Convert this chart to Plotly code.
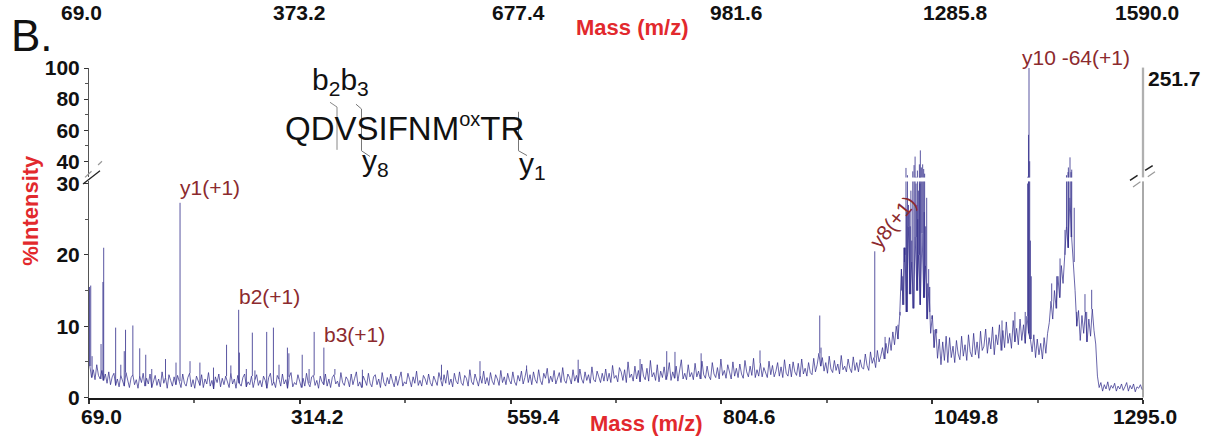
import numpy as np
import plotly.graph_objects as go

W, H = 1215, 448

# ---------------- data ----------------
x_tick_vals = [69.0, 314.2, 559.4, 804.6, 1049.8, 1295.0]
top_tick_vals = [69.0, 373.2, 677.4, 981.6, 1285.8, 1590.0]
y_low_ticks = [0, 10, 20, 30]
y_high_ticks = [40, 60, 80, 100]
max_abs_intensity = "251.7"

# baseline / noise trace, sampled every 2 m/z (segments start at the given m/z)
noise_step = 2.0
noise_070 = [4.4, 2.8, 3.9, 2.5, 4.6, 3.1, 2.6, 3.8, 2.4, 3.3,
             2.0, 3.6, 1.8, 2.9, 3.4, 1.7, 2.6, 1.5, 3.1, 2.2,
             1.6, 3.5, 2.4, 1.4, 2.8, 3.2, 1.8, 2.5, 1.3, 3.0,
             2.1, 3.4, 1.6, 2.7, 1.9, 3.3, 1.4, 2.3, 3.1, 1.7,
             2.6, 1.5, 3.6, 2.0, 2.8, 1.3, 3.2, 2.4, 1.6, 2.9]
noise_170 = [1.8, 3.1, 2.3, 1.4, 3.3, 2.0, 1.6, 2.8, 3.4, 1.5,
             2.5, 1.3, 3.0, 2.2, 1.7, 3.2, 1.4, 2.6, 1.9, 3.5,
             1.6, 2.4, 1.2, 2.9, 2.1, 3.3, 1.5, 2.7, 1.8, 3.0,
             2.3, 1.4, 3.4, 1.9, 2.6, 1.3, 3.1, 2.0, 1.6, 2.8,
             3.3, 1.5, 2.2, 1.8, 3.0, 1.4, 2.5, 3.2, 1.7, 2.4]
noise_270 = [1.5, 3.0, 2.4, 1.3, 2.8, 3.4, 1.7, 2.2, 1.4, 3.1,
             2.6, 1.6, 3.3, 1.9, 2.5, 1.3, 2.9, 3.5, 1.5, 2.1,
             1.8, 3.2, 2.3, 1.4, 2.7, 1.6, 3.4, 2.0, 1.5, 2.9,
             3.1, 1.7, 2.4, 1.3, 3.0, 2.2, 1.8, 3.3, 1.6, 2.6,
             1.4, 2.8, 3.2, 1.9, 2.3, 1.5, 3.5, 2.1, 1.7, 2.9]
noise_370 = [2.5, 1.5, 3.3, 1.8, 2.7, 3.6, 1.6, 2.2, 1.4, 3.0,
             2.4, 1.7, 3.4, 2.0, 1.5, 2.9, 3.2, 1.8, 2.6, 1.4,
             3.5, 2.1, 1.6, 2.8, 1.9, 3.3, 2.3, 1.5, 3.0, 1.7,
             2.7, 3.6, 1.6, 2.2, 1.9, 3.4, 2.5, 1.5, 2.9, 2.0,
             3.7, 1.7, 2.4, 1.6, 3.1, 2.6, 1.8, 3.3, 2.1, 1.6]
noise_470 = [3.0, 2.2, 1.7, 3.5, 2.5, 1.6, 3.2, 2.0, 3.8, 1.8,
             2.6, 1.5, 3.4, 2.3, 1.9, 3.6, 2.1, 1.7, 3.1, 2.7,
             1.6, 3.9, 2.2, 1.8, 3.3, 2.4, 1.6, 3.0, 2.0, 3.7,
             1.9, 2.8, 1.7, 3.5, 2.3, 1.8, 3.2, 2.6, 1.7, 3.8,
             2.1, 2.9, 1.8, 3.4, 2.4, 1.9, 3.6, 2.2, 1.7, 3.1]
noise_570 = [2.3, 3.7, 1.9, 2.8, 4.0, 2.1, 3.2, 1.8, 3.6, 2.5,
             2.0, 3.9, 2.4, 1.8, 3.4, 2.7, 4.1, 2.0, 3.0, 2.2,
             3.8, 1.9, 2.6, 3.5, 2.1, 4.2, 2.4, 2.0, 3.3, 2.8,
             1.9, 3.9, 2.3, 3.1, 2.1, 4.0, 2.6, 2.0, 3.6, 2.4,
             3.2, 2.0, 4.3, 2.5, 2.2, 3.7, 2.9, 2.1, 3.4, 2.3]
noise_670 = [4.0, 2.3, 3.4, 2.1, 4.5, 2.7, 3.1, 2.2, 4.2, 3.6,
             2.4, 3.9, 2.1, 5.0, 2.8, 3.3, 2.3, 4.4, 2.6, 3.8,
             2.2, 4.7, 3.0, 2.5, 4.1, 2.3, 5.2, 2.9, 3.5, 2.4,
             4.6, 2.2, 3.7, 2.8, 4.3, 2.5, 3.2, 4.9, 2.4, 3.6,
             2.7, 4.4, 2.3, 3.9, 5.3, 2.6, 3.4, 2.5, 4.6, 2.9]
noise_770 = [3.5, 2.5, 4.8, 2.9, 3.7, 2.6, 5.1, 3.2, 2.7, 4.4,
             3.0, 2.5, 4.9, 3.3, 2.8, 4.2, 2.6, 5.4, 3.1, 3.8,
             2.7, 4.6, 3.4, 2.6, 5.0, 3.0, 4.1, 2.8, 4.7, 3.3,
             2.7, 5.2, 3.6, 2.9, 4.4, 3.1, 5.5, 2.8, 3.9, 3.0,
             4.8, 2.9, 4.2, 3.5, 2.8, 5.1, 3.2, 4.5, 2.9, 3.7]
noise_870 = [4.9, 3.0, 4.3, 2.8, 5.3, 3.4, 3.0, 4.7, 2.9, 5.0,
             3.6, 3.1, 4.8, 2.9, 5.4, 3.3, 4.1, 3.0, 4.9, 3.5,
             3.2, 5.5, 3.6, 4.6, 6.2, 4.4, 5.6, 3.7, 4.9, 3.4,
             5.8, 4.0, 3.5, 5.2, 3.8, 4.7, 3.3, 5.9, 3.9, 4.4,
             3.6, 5.4, 4.1, 3.5, 5.7, 3.8, 4.9, 3.6, 5.3, 4.2]
noise_970 = [4.0, 6.1, 4.5, 3.8, 6.4, 4.8, 5.6, 4.2, 6.6, 5.0,
             5.8, 7.0, 5.4, 7.6, 6.2, 8.4, 6.6, 9.2, 7.4, 10.0,
             8.2, 11.5, 18.0, 13.0, 21.0, 12.0, 24.0, 14.5, 19.0, 12.5,
             22.5, 15.0, 20.0, 13.0, 23.0, 14.0, 18.5, 11.0, 15.5, 9.0,
             11.5, 7.0, 9.6, 5.5, 8.2, 4.6, 7.8, 5.2, 8.6, 4.9]
noise_1070 = [8.4, 5.6, 7.2, 4.9, 8.0, 6.1, 5.3, 8.6, 5.8, 7.4,
              5.2, 8.8, 6.4, 5.7, 9.0, 6.0, 7.8, 5.5, 9.3, 6.6,
              7.2, 9.6, 6.2, 8.4, 6.8, 9.9, 6.0, 8.8, 7.4, 10.2,
              6.6, 9.4, 7.0, 10.6, 7.6, 9.0, 6.9, 10.8, 7.8, 9.7,
              7.4, 11.0, 8.0, 10.2, 7.6, 11.4, 9.0, 8.2, 6.4, 8.8]
noise_1170 = [5.6, 8.2, 6.0, 7.6, 5.4, 8.4, 6.2, 9.0,
              10.5, 13.5, 11.0, 15.0, 12.5, 17.0, 14.0, 18.5, 16.0, 20.0,
              24.0, 21.0, 28.0, 22.5, 19.0, 15.0,
              10.0, 12.2, 8.0, 11.5, 9.0, 12.0, 7.8, 11.0, 8.6, 12.4, 9.4, 7.5,
              3.0,
              1.4, 2.1, 0.9, 1.8, 1.2, 2.2, 1.0, 1.7, 1.3, 2.0, 0.9, 1.6, 1.2]
noise_1270 = [1.9, 1.0, 1.5, 2.1, 0.9, 1.7, 1.2, 1.9, 0.8, 1.5, 1.3, 1.8, 1.1]

peak_mz = [69.6, 71.0, 72.6, 83.0, 85.2, 86.1, 100.0, 106.0, 110.0, 111.5,
           120.0, 128.0, 135.0, 142.0, 158.0, 170.2, 174.9, 186.5, 198.0, 213.8,
           229.0, 234.0, 243.1, 243.9, 252.0, 259.0, 262.0, 275.7, 283.5, 290.0,
           299.8, 301.5, 317.0, 325.0, 330.9, 342.2, 355.0, 387.0,
           479.0, 523.8, 578.0, 638.0, 710.0, 741.0, 750.6, 781.0, 849.5,
           919.0, 920.5, 983.0, 995.0, 1010.0]
peak_int = [15.5, 15.7, 5.8, 7.5, 16.2, 21.0, 9.8, 4.6, 6.5, 9.5,
            10.1, 6.9, 6.0, 4.0, 5.4, 4.9, 27.3, 5.1, 4.9, 4.2,
            7.4, 4.5, 12.3, 6.3, 4.0, 9.1, 3.8, 9.2, 9.8, 4.6,
            7.0, 6.2, 6.0, 4.0, 9.2, 7.0, 4.0, 3.9,
            4.6, 5.1, 4.5, 5.3, 5.4, 6.5, 6.4, 6.2, 6.6,
            11.5, 7.0, 20.5, 8.5, 10.2]

cluster_mz = [1012.5, 1014.0, 1015.5, 1016.8, 1017.5, 1018.2, 1019.3, 1020.0, 1021.0, 1022.2,
              1023.3, 1024.2, 1025.0, 1026.0, 1027.2, 1028.7, 1029.9, 1031.0, 1031.8, 1032.6,
              1033.0, 1033.7, 1034.9, 1035.5, 1036.0, 1037.2, 1038.7, 1039.9, 1040.5, 1041.0,
              1042.2, 1043.4, 1044.5, 1045.7, 1047.0, 1049.5, 1052.0, 1055.0]
cluster_int = [12.0, 15.0, 17.0, 21.0, 19.0, 20.0, 35.7, 26.0, 31.0, 27.0,
               26.0, 24.0, 29.0, 22.0, 33.5, 37.5, 43.0, 30.0, 27.0, 34.0,
               25.0, 29.0, 38.0, 30.0, 47.0, 36.0, 38.0, 35.0, 26.0, 32.0,
               24.0, 28.0, 16.0, 18.0, 12.0, 11.0, 9.5, 9.0]

high_mz = [1131.0, 1146.0, 1158.0, 1160.8, 1161.8, 1162.4, 1163.2, 1164.0, 1165.0,
           1188.8, 1194.6, 1198.5, 1204.3, 1206.0, 1207.8, 1208.2, 1210.1, 1211.3, 1212.1,
           1215.0, 1217.9, 1227.5, 1229.5, 1235.3]
high_int = [10.8, 12.0, 12.0, 30.0, 57.0, 100.0, 40.0, 22.0, 17.0,
            16.0, 17.0, 19.5, 23.5, 31.0, 33.0, 36.0, 42.5, 33.0, 34.6,
            26.6, 12.0, 14.5, 12.0, 15.1]

frag_text = ["y1(+1)", "b2(+1)", "b3(+1)", "y8(+1)", "y10 -64(+1)"]
frag_mz = [174.9, 243.1, 342.2, 983.0, 1162.4]
frag_int = [27.3, 12.3, 7.0, 20.5, 100.0]

# ---------------- styles ----------------
FONT = "Liberation Sans, Arial, sans-serif"
SPEC = "rgba(48,42,138,0.8)"
RED = "#e2292d"
DARKRED = "#8c2a2e"
X_DOM = [89 / W, 1143 / W]
LOW_DOM = [1 - 406.5 / H, 1 - 179.2 / H]
HIGH_DOM = [1 - 175.0 / H, 1 - 59.5 / H]


def px(x):
    return x / W


def py(y):
    return 1 - y / H


# ---------------- build series ----------------
noise_segments = [(70.0, noise_070), (170.0, noise_170), (270.0, noise_270), (370.0, noise_370),
                  (470.0, noise_470), (570.0, noise_570), (670.0, noise_670), (770.0, noise_770),
                  (870.0, noise_870), (970.0, noise_970), (1070.0, noise_1070),
                  (1170.0, noise_1170), (1270.0, noise_1270)]
noise_mz, noise_val = [], []
for start, vals in noise_segments:
    for k, v in enumerate(vals):
        noise_mz.append(start + noise_step * k)
        noise_val.append(v)
order = np.argsort(noise_mz, kind="stable")
nm = np.array(noise_mz)[order]
nv = np.array(noise_val)[order]

stick_x, stick_y = [], []
for m, h in zip(peak_mz + cluster_mz + high_mz, peak_int + cluster_int + high_int):
    base = float(nv[np.argmin(np.abs(nm - m))])
    stick_x += [m, m, None]
    stick_y += [base, h, None]

fig = go.Figure()
for xa, ya in [("x", "y"), ("x2", "y2")]:
    fig.add_trace(go.Scatter(x=nm, y=nv, mode="lines", xaxis=xa, yaxis=ya,
                             line=dict(color=SPEC, width=0.9), hoverinfo="skip", showlegend=False))
    fig.add_trace(go.Scatter(x=stick_x, y=stick_y, mode="lines", xaxis=xa, yaxis=ya,
                             line=dict(color=SPEC, width=1), hoverinfo="skip", showlegend=False))
# empty trace to register the helper axis for the cropped top labels
fig.add_trace(go.Scatter(x=[], y=[], xaxis="x3", yaxis="y", showlegend=False, hoverinfo="skip"))

tickfont = dict(family=FONT, size=21, color="#111", weight="bold")

fig.update_layout(
    width=W, height=H, autosize=False,
    margin=dict(l=0, r=0, t=0, b=0),
    paper_bgcolor="white", plot_bgcolor="rgba(0,0,0,0)",
    showlegend=False,
    xaxis=dict(domain=X_DOM, range=[69, 1295], anchor="y", showline=True, linecolor="#1a1a1a",
               linewidth=2, ticks="outside", ticklen=4, tickwidth=1.5, tickcolor="#333",
               tick0=69, dtick=245.2, showticklabels=False, showgrid=False, zeroline=False,
               minor=dict(tick0=69, dtick=122.6, ticks="outside", ticklen=3, tickcolor="#666",
                          showgrid=False)),
    xaxis2=dict(domain=X_DOM, matches="x", anchor="y2", visible=False),
    xaxis3=dict(domain=[81 / W, 1173.5 / W], range=[69, 1590], anchor="y", visible=False),
    yaxis=dict(domain=LOW_DOM, range=[0, 30.3], anchor="x", showline=True, linecolor="#555",
               linewidth=1, ticks="outside", ticklen=4, tickcolor="#333", tickvals=y_low_ticks,
               tickfont=tickfont, showgrid=False, zeroline=False,
               minor=dict(tickvals=[5, 15, 25], ticks="outside", ticklen=3, tickcolor="#555")),
    yaxis2=dict(domain=HIGH_DOM, range=[29.6, 100.3], anchor="x2", showline=True, linecolor="#555",
                linewidth=1, ticks="outside", ticklen=4, tickcolor="#333", tickvals=y_high_ticks,
                tickfont=tickfont, showgrid=False, zeroline=False,
                minor=dict(tickvals=[50, 70, 90], ticks="outside", ticklen=3, tickcolor="#555")),
)

ann = []
# bottom tick labels (printed slightly offset from their ticks in the original)
bottom_label_shift = [12, 18, 23, 28, 34, 2]
for v, s in zip(x_tick_vals, bottom_label_shift):
    ann.append(dict(x=v, xref="x", y=py(426.5), yref="paper", text=f"{v:.1f}",
                    showarrow=False, xanchor="center", yanchor="middle", xshift=s,
                    font=tickfont))
# cropped top labels of the panel above
top_label_shift = [0, 0, 0, 0, 0, -27]
for v, s in zip(top_tick_vals, top_label_shift):
    ann.append(dict(x=v, xref="x3", y=py(1.5), yref="paper", text=f"{v:.1f}",
                    showarrow=False, xanchor="center", yanchor="middle", xshift=s,
                    font=tickfont))
ann.append(dict(x=px(632), y=py(17), xref="paper", yref="paper", text="Mass (m/z)",
                showarrow=False, xanchor="center", yanchor="middle",
                font=dict(family=FONT, size=22, color=RED, weight="bold")))
ann.append(dict(x=px(646), y=py(434), xref="paper", yref="paper", text="Mass (m/z)",
                showarrow=False, xanchor="center", yanchor="middle",
                font=dict(family=FONT, size=22, color=RED, weight="bold")))
ann.append(dict(x=px(31), y=py(210), xref="paper", yref="paper", text="%Intensity",
                showarrow=False, xanchor="center", yanchor="middle", textangle=-90,
                font=dict(family=FONT, size=22, color=RED, weight="bold")))
ann.append(dict(x=px(9), y=py(26), xref="paper", yref="paper", text="B.",
                showarrow=False, xanchor="left", yanchor="middle",
                font=dict(family=FONT, size=44, color="#111")))
ann.append(dict(x=1, xref="x domain", y=100, yref="y2", text=max_abs_intensity,
                showarrow=False, xanchor="left", yanchor="middle", xshift=3, yshift=-10,
                font=tickfont))

# fragment labels
frag_style = [
    dict(yref="y", textangle=0, xshift=-2, yshift=2),
    dict(yref="y", textangle=0, xshift=-2, yshift=0),
    dict(yref="y", textangle=0, xshift=-2, yshift=0),
    dict(yref="y", textangle=-51, xshift=-12, yshift=-4),
    dict(yref="y2", textangle=0, xshift=-9, yshift=-3),
]
for t, m, h, st in zip(frag_text, frag_mz, frag_int, frag_style):
    ann.append(dict(x=m, xref="x", y=h, text=t, showarrow=False, xanchor="left",
                    yanchor="bottom", font=dict(family=FONT, size=21, color=DARKRED), **st))

# peptide sequence with fragmentation marks
pep_font = dict(family=FONT, size=33, color="#111")
ann.append(dict(x=px(283), y=py(145), xref="paper", yref="paper",
                text="QDVSIFNM<sup><span style='font-size:20px'>ox</span></sup>TR",
                showarrow=False, xanchor="left", yanchor="bottom", font=pep_font))
frag_font = dict(family=FONT, size=30, color="#111")
ann.append(dict(x=px(310), y=py(53), xref="paper", yref="paper",
                text="b<sub>2</sub>b<sub>3</sub>", showarrow=False, xanchor="left",
                yanchor="top", font=frag_font))
ann.append(dict(x=px(360), y=py(137.5), xref="paper", yref="paper",
                text="y<sub>8</sub>", showarrow=False, xanchor="left",
                yanchor="top", font=frag_font))
ann.append(dict(x=px(517), y=py(140.5), xref="paper", yref="paper",
                text="y<sub>1</sub>", showarrow=False, xanchor="left",
                yanchor="top", font=frag_font))

shapes = []
# right frame lines
shapes.append(dict(type="line", xref="x domain", yref="y domain", x0=1, x1=1, y0=0, y1=1,
                   line=dict(color="#555", width=1)))
shapes.append(dict(type="line", xref="x2 domain", yref="y2 domain", x0=1, x1=1, y0=0, y1=1,
                   line=dict(color="#b0b0b0", width=2.3)))


def seg(p0, p1, color, width=1.2, dash="solid"):
    return dict(type="line", xref="paper", yref="paper", x0=px(p0[0]), y0=py(p0[1]),
                x1=px(p1[0]), y1=py(p1[1]), line=dict(color=color, width=width, dash=dash))


def poly(points, color, width=1):
    d = "M " + " L ".join(f"{px(a):.5f},{py(b):.5f}" for a, b in points)
    return dict(type="path", xref="paper", yref="paper", path=d,
                line=dict(color=color, width=width))


# axis-break marks
shapes.append(seg((83, 182), (100, 168), "#222", 1.3))
shapes.append(seg((85, 175), (102, 158), "#999", 1.2, "dash"))
shapes.append(seg((1130, 178), (1155, 161), "#222", 1.5, "dash"))
shapes.append(seg((1133, 185), (1155, 169), "#999", 1.2, "dash"))

# cleavage brackets on the peptide
shapes.append(poly([(330, 96), (337, 101), (337, 146)], "#888"))
shapes.append(poly([(356, 98), (361.5, 103), (361.5, 147), (370, 153)], "#777"))
shapes.append(poly([(518.5, 106), (518.5, 147), (527, 152)], "#777"))

fig.update_layout(annotations=ann, shapes=shapes)
fig.write_html("out.html")
